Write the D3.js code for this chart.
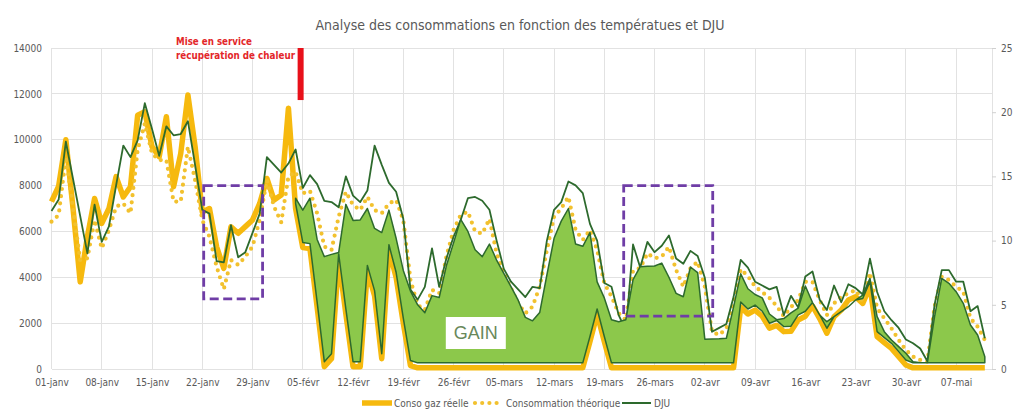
<!doctype html>
<html lang="fr">
<head>
<meta charset="utf-8">
<title>Analyse des consommations</title>
<style>
    body{ margin:0; background:#fff; }
    svg text{
        font-family: "Liberation Sans Narrow", "DejaVu Sans Condensed", "Liberation Sans", Arial, sans-serif;
        fill:#595959;
    }
    .grid line{ stroke:#e2e2e2; stroke-width:1; shape-rendering:crispEdges; }
</style>
</head>
<body>
<div id="vis"></div>
<script src="https://d3js.org/d3.v7.min.js"></script>
<script>
var tickLabels = ['01-janv','08-janv','15-janv','22-janv','29-janv','05-févr','12-févr','19-févr','26-févr',
    '05-mars','12-mars','19-mars','26-mars','02-avr','09-avr','16-avr','23-avr','30-avr','07-mai'];

// kWh par jour, du 01-janv au 11-mai
var consoReelle = [
    7300, 7980, 10000, 7000, 3800, 5770, 7440, 6350, 7000, 8390,
    7500, 7950, 11070, 11220, 9700, 9260, 11000, 7950, 9400, 11950,
    9700, 6850, 7000, 5330, 4390, 6200, 5920, 6210, 6500, 7220,
    8310, 7370, 7590, 11370, 7000, 5300, 5250, 2700, 100, 450,
    4800, 2400, 100, 100, 4300, 3200, 450, 5200, 4000, 2000,
    150, 50, 50, 50, 50, 50, 50, 50, 50, 50,
    50, 50, 50, 50, 50, 50, 50, 50, 50, 50,
    50, 50, 50, 50, 50, 1200, 2400, 1200, 50, 50,
    50, 50, 50, 50, 50, 50, 50, 50, 50, 50,
    50, 50, 50, 50, 50, 50, 2700, 2400, 2570, 2300,
    1780, 1900, 1630, 1650, 2140, 2300, 2750, 2200, 1560, 2280,
    2570, 3010, 3150, 2860, 3600, 1410, 1150, 900, 540, 175,
    50, 50, 50, 50, 50, 50, 50, 50, 50, 50, 50
];

var consoTheorique = [
    6425, 6715, 9260, 7000, 4750, 4830, 6500, 5260, 6060, 7080,
    7220, 6790, 9550, 10710, 9400, 9110, 9110, 7300, 7300, 9690,
    8240, 6500, 5770, 4460, 3480, 4750, 4540, 4900, 5340, 6500,
    8240, 7080, 6400, 8390, 8600, 7660, 7770, 6790, 5340, 5190,
    6640, 7730, 7150, 6930, 7510, 6930, 6790, 7220, 7370, 6500,
    3880, 2790, 2570, 3450, 3300, 4900, 6060, 6720, 6860, 6000,
    5900, 6550, 5040, 4170, 3520, 2860, 2430, 2720, 3590, 5190,
    6640, 7000, 7510, 6060, 5630, 6060, 5190, 3740, 3160, 2430,
    2140, 4300, 4400, 5040, 4830, 4900, 5330, 4320, 3590, 4390,
    4680, 3590, 1630, 1480, 1770, 2860, 4350, 4050, 3600, 3350,
    3100, 2750, 2300, 2700, 3000, 3800, 3800, 3000, 2350, 2860,
    3150, 3300, 3445, 2936, 4200, 2650, 2209, 1773, 1265, 829,
    538, 393, 320, 2718, 4025, 3880, 3590, 3372, 2209, 1846, 1265
];

var dju = [
    12.3, 13.2, 17.7, 14.8, 11.9, 9.0, 12.8, 9.9, 11.1, 14.3,
    17.4, 16.5, 17.8, 20.7, 18.7, 16.6, 18.9, 18.2, 18.3, 19.3,
    15.9, 12.4, 12.1, 8.4, 8.3, 11.2, 8.7, 9.1, 10.6, 12.1,
    16.5, 15.9, 15.3, 16.0, 17.1, 14.1, 15.1, 14.4, 13.1, 13.0,
    12.6, 15.0, 13.5, 13.0, 13.9, 17.4, 15.9, 14.5, 13.8, 11.7,
    6.2, 5.4, 6.4, 9.4, 6.4, 8.6, 10.3, 11.6, 13.3, 13.4,
    13.1, 12.4, 10.0, 7.8, 6.8, 6.2, 5.6, 6.4, 6.3, 10.0,
    12.4, 13.0, 14.6, 14.3, 13.7, 11.3, 10.0, 6.7, 6.4, 4.2,
    3.0, 9.7, 7.9, 9.9, 9.1, 9.6, 10.4, 8.6, 8.2, 9.2,
    8.8, 7.1, 2.9, 3.2, 3.5, 5.6, 8.5, 7.9, 6.8, 6.5,
    6.2, 6.4, 4.2, 5.7, 4.8, 7.2, 7.6, 5.4, 4.6, 6.5,
    5.2, 6.6, 6.3, 5.8, 8.6, 6.0, 4.5, 3.8, 3.2, 2.3,
    2.0, 1.6, 0.6, 5.0, 7.7, 7.7, 6.8, 6.8, 4.5, 4.9, 2.4
];

// bord haut de la zone "GAIN" (à partir du 04-févr)
var gainHaut = [
    null, null, null, null, null, null, null, null, null, null,
    null, null, null, null, null, null, null, null, null, null,
    null, null, null, null, null, null, null, null, null, null,
    null, null, null, null, 7450, 6930, 7450, 5650, 4900, 5000,
    5080, 7180, 6480, 6500, 7000, 6130, 5950, 6930, 5700, 4300,
    3400, 2800, 2450, 3200, 3120, 4500, 5500, 6530, 6000, 5200,
    4900, 5450, 4750, 4170, 3590, 3000, 2250, 2100, 2460, 4100,
    5700, 6450, 7000, 5450, 5350, 5950, 3800, 3100, 2150, 2065,
    2150, 3900, 4460, 4480, 4490, 4620, 4000, 3300, 3150, 4450,
    4200, 1300, 1310, 1320, 1340, 2700, 4150, 3500, 3250, 3100,
    2400, 2150, 2200, 2450, 2650, 3620, 2900, 2355, 2064, 2282,
    2500, 2718, 3009, 3227, 3953, 2282, 1628, 1265, 974, 684,
    320, 277, 277, 2282, 3953, 3735, 3372, 2863, 1919, 1483, 538
];

var leftTicks = [0, 2000, 4000, 6000, 8000, 10000, 12000, 14000];
var rightTicks = [0, 5, 10, 15, 20, 25];

var start = new Date(2025, 0, 1),
    days = consoReelle.map(function(d, i){ return d3.timeDay.offset(start, i); }),
    tickDates = tickLabels.map(function(d, i){ return d3.timeDay.offset(start, 7 * i); });

var W = 1024, H = 419,
    x = d3.scaleTime().domain([start, d3.timeDay.offset(start, 131)]).range([51.5, 992]),
    yL = d3.scaleLinear().domain([0, 14000]).range([369, 48]),
    yR = d3.scaleLinear().domain([0, 25]).range([369, 48]);

function dayX(n){ return x(new Date(+start + n * 864e5)); }

var svg = d3.select('#vis').append('svg').attr('width', W).attr('height', H);
svg.append('rect').attr('width', W).attr('height', H).attr('fill', '#fff');

// grille
var grid = svg.append('g').attr('class', 'grid');
grid.selectAll('.h').data(leftTicks).enter().append('line')
    .attr('x1', x.range()[0]).attr('x2', x.range()[1])
    .attr('y1', function(d){ return yL(d); }).attr('y2', function(d){ return yL(d); });
grid.selectAll('.v').data(tickDates.concat([x.domain()[1]])).enter().append('line')
    .attr('x1', function(d){ return x(d); }).attr('x2', function(d){ return x(d); })
    .attr('y1', yL(0)).attr('y2', yL(14000));

// axes
var axL = svg.append('g').attr('transform', 'translate(46,0)')
    .call(d3.axisLeft(yL).tickValues(leftTicks).tickSize(0).tickPadding(4).tickFormat(d3.format('d')));
var axR = svg.append('g').attr('transform', 'translate(992,0)')
    .call(d3.axisRight(yR).tickValues(rightTicks).tickSize(4).tickPadding(5));
var axB = svg.append('g').attr('transform', 'translate(0,' + (yL(0) + 4) + ')')
    .call(d3.axisBottom(x).tickValues(tickDates).tickSize(0).tickPadding(6)
        .tickFormat(function(d, i){ return tickLabels[i]; }));
[axL, axR, axB].forEach(function(a){
    a.select('.domain').remove();
    a.selectAll('text').style('font-size', '10px').style('fill', '#595959');
});
axR.selectAll('.tick line').attr('stroke', '#d0d0d0');

// séries
var lineReel = d3.line().x(function(d, i){ return x(days[i]); }).y(function(d){ return yL(d); }),
    lineDju = d3.line().x(function(d, i){ return x(days[i]); }).y(function(d){ return yR(d); }),
    gainArea = d3.area()
        .defined(function(d, i){ return gainHaut[i] != null; })
        .x(function(d, i){ return x(days[i]); })
        .y1(function(d, i){ return yL(gainHaut[i]); })
        .y0(function(d, i){ return Math.max(yL(gainHaut[i]), yL(d) - 5); });

svg.append('path').datum(consoReelle).attr('d', lineReel)
    .attr('fill', 'none').attr('stroke', '#F6B90E').attr('stroke-width', 5.5)
    .attr('stroke-linejoin', 'round');
svg.append('path').datum(consoTheorique).attr('d', lineReel)
    .attr('fill', 'none').attr('stroke', '#F2C12E').attr('stroke-width', 4.2)
    .attr('stroke-linecap', 'round').attr('stroke-dasharray', '0 7.2');
svg.append('path').datum(dju).attr('d', lineDju)
    .attr('fill', 'none').attr('stroke', '#2D6A2D').attr('stroke-width', 1.8)
    .attr('stroke-linejoin', 'round');
svg.append('path').datum(consoReelle).attr('d', gainArea)
    .attr('fill', '#8CC84B').attr('stroke', '#2D6A2D').attr('stroke-width', 1.5)
    .attr('stroke-linejoin', 'round');

// cadres pointillés violets
var boxes = [
    {d0: 21.2, d1: 29.4, v0: 3060, v1: 8000},
    {d0: 79.7, d1: 92.1, v0: 2310, v1: 8000}
];
svg.selectAll('.box').data(boxes).enter().append('rect')
    .attr('x', function(d){ return dayX(d.d0); })
    .attr('y', function(d){ return yL(d.v1); })
    .attr('width', function(d){ return dayX(d.d1) - dayX(d.d0); })
    .attr('height', function(d){ return yL(d.v0) - yL(d.v1); })
    .attr('fill', 'none').attr('stroke', '#6F3DA6').attr('stroke-width', 2.8)
    .attr('stroke-dasharray', '9 4.5');

// étiquette GAIN
var g = svg.append('g').attr('transform', 'translate(' + dayX(59.1) + ',' + yL(1570) + ')');
g.append('rect').attr('x', -30).attr('y', -16).attr('width', 60).attr('height', 32).attr('fill', '#fff');
g.append('text').attr('text-anchor', 'middle').attr('dy', '0.36em')
    .style('font-family', '"Liberation Sans", Arial, sans-serif')
    .style('font-size', '18px').style('fill', '#68885A').text('GAIN');

// mise en service
svg.append('rect').attr('x', dayX(34.7) - 3).attr('y', yL(14000)).attr('width', 6)
    .attr('height', yL(11730) - yL(14000)).attr('fill', '#E8101A');
svg.append('text').attr('x', 176).attr('y', 45).text('Mise en service')
    .attr('textLength', 76).attr('lengthAdjust', 'spacingAndGlyphs')
    .style('font-size', '11px').style('font-weight', 'bold').style('fill', '#E3262A');
svg.append('text').attr('x', 176).attr('y', 59).text('récupération de chaleur')
    .attr('textLength', 119).attr('lengthAdjust', 'spacingAndGlyphs')
    .style('font-size', '11px').style('font-weight', 'bold').style('fill', '#E3262A');

// titre
svg.append('text').attr('x', 520).attr('y', 30).attr('text-anchor', 'middle')
    .style('font-size', '14px').style('fill', '#595959')
    .text('Analyse des consommations en fonction des températues et DJU');

// légende
var leg = svg.append('g').attr('transform', 'translate(0,403)');
leg.append('line').attr('x1', 362).attr('x2', 392).attr('stroke', '#F6B90E').attr('stroke-width', 5.5);
leg.append('text').attr('x', 394).attr('dy', '0.35em').style('font-size', '10px').text('Conso gaz réelle');
leg.append('line').attr('x1', 475).attr('x2', 500).attr('stroke', '#F2C12E').attr('stroke-width', 4.2)
    .attr('stroke-linecap', 'round').attr('stroke-dasharray', '0 7.2');
leg.append('text').attr('x', 506).attr('dy', '0.35em').style('font-size', '10px').text('Consommation théorique');
leg.append('line').attr('x1', 622).attr('x2', 651).attr('stroke', '#2D6A2D').attr('stroke-width', 2);
leg.append('text').attr('x', 654).attr('dy', '0.35em').style('font-size', '10px').text('DJU');
</script>
</body>
</html>
